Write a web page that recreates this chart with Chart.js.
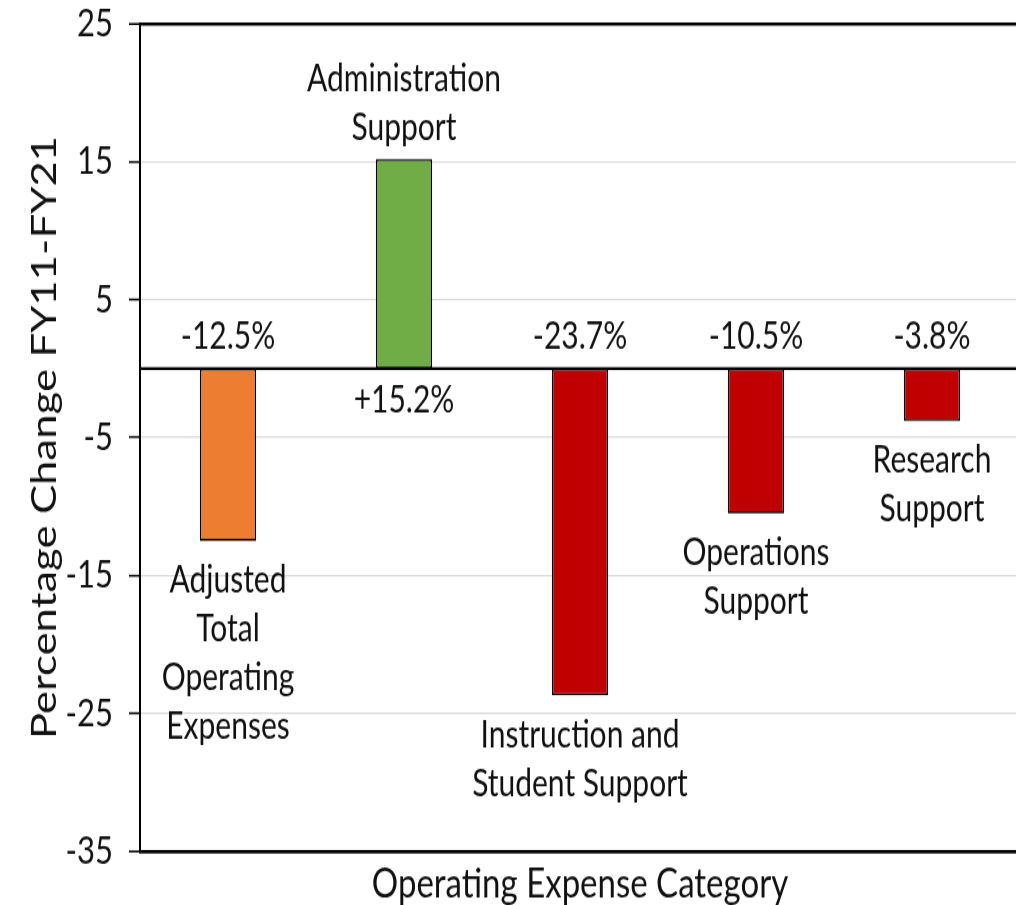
<!DOCTYPE html>
<html>
<head>
<meta charset="utf-8">
<script src="https://cdn.jsdelivr.net/npm/chart.js@4.4.0/dist/chart.umd.min.js"></script>
<style>
  html, body { margin: 0; padding: 0; background: #fff; overflow: hidden; }
  /* the source picture is stretched vertically, so the canvas is too */
  #wrap { position: absolute; left: 0; top: 0; width: 1020px; height: 724px; transform: scaleY(1.25); transform-origin: 0 0; }
</style>
</head>
<body>
<div id="wrap"><canvas id="chart" width="1020" height="724"></canvas></div>
<script>
// data
const categories = [
    ["Adjusted", "Total", "Operating", "Expenses"],
    ["Administration", "Support"],
    ["Instruction and", "Student Support"],
    ["Operations", "Support"],
    ["Research", "Support"],
];
const pctChange = [-12.5, 15.2, -23.7, -10.5, -3.8];
const barColors = ["#ED7D31", "#70AD47", "#C00000", "#C00000", "#C00000"];
const yTicks = [-35, -25, -15, -5, 5, 15, 25];

const FONT = "Lato";
const TEXT = "#111";

// zero line, value labels and category names drawn next to each bar
const annotate = {
    id: "annotate",
    afterDatasetsDraw(chart) {
        const { ctx, chartArea, scales: { y } } = chart;
        const zero = y.getPixelForValue(0);
        ctx.save();
        ctx.strokeStyle = "#000";
        ctx.lineWidth = 2.4;
        ctx.beginPath();
        ctx.moveTo(chartArea.left, zero);
        ctx.lineTo(chartArea.right, zero);
        ctx.stroke();

        ctx.fillStyle = TEXT;
        ctx.font = `30px ${FONT}`;
        ctx.textAlign = "center";
        ctx.textBaseline = "middle";
        chart.getDatasetMeta(0).data.forEach((bar, i) => {
            const v = pctChange[i];
            const lines = categories[i];
            const txt = (v > 0 ? "+" : "") + v.toFixed(1) + "%";
            if (v < 0) {
                ctx.fillText(txt, bar.x, zero - 25.6);
                lines.forEach((l, k) => ctx.fillText(l, bar.x, bar.y + 32 + k * 39));
            } else {
                ctx.fillText(txt, bar.x, zero + 25.6);
                lines.forEach((l, k) => ctx.fillText(l, bar.x, bar.y - 25 - (lines.length - 1 - k) * 39));
            }
        });
        ctx.restore();
    }
};

const isEdge = (c) => c.tick && (c.tick.value === 25 || c.tick.value === -35);

new Chart(document.getElementById("chart"), {
    type: "bar",
    data: {
        labels: categories,
        datasets: [{
            data: pctChange,
            backgroundColor: barColors,
            borderColor: "#000",
            borderWidth: 1.6,
            borderSkipped: false,
            barPercentage: 0.32,
            categoryPercentage: 1,
        }],
    },
    options: {
        responsive: false,
        animation: false,
        layout: { padding: { top: 19.2, left: 0, right: 0, bottom: 0 } },
        plugins: { legend: { display: false }, tooltip: { enabled: false } },
        scales: {
            x: {
                grid: { display: false },
                border: { display: true, color: "#000", width: 2.4 },
                ticks: { display: false },
                title: {
                    display: true,
                    text: "Operating Expense Category",
                    color: TEXT,
                    font: { family: FONT, size: 33, lineHeight: 1 },
                    padding: { top: 0, bottom: 0.5 },
                },
                afterFit(s) { s.height = 43.2; },
            },
            y: {
                min: -35,
                max: 25,
                afterBuildTicks(s) { s.ticks = yTicks.map(v => ({ value: v })); },
                grid: {
                    color: c => isEdge(c) ? "#000" : "#d9d9d9",
                    lineWidth: c => isEdge(c) ? 2.4 : 1.2,
                    tickColor: "#000",
                    tickLength: 11,
                    tickWidth: 1.6,
                },
                border: { color: "#000", width: 2 },
                ticks: { color: TEXT, font: { family: FONT, size: 31 }, padding: 16 },
                title: {
                    display: true,
                    text: "Percentage Change FY11-FY21",
                    color: TEXT,
                    font: { family: FONT, size: 35, lineHeight: 1 },
                    padding: { top: 27, bottom: 0 },
                },
                afterFit(s) {
                    s.width = 140;
                    s.paddingTop = 0;
                    s.paddingBottom = 0;
                },
            },
        },
    },
    plugins: [annotate],
});
</script>
</body>
</html>
